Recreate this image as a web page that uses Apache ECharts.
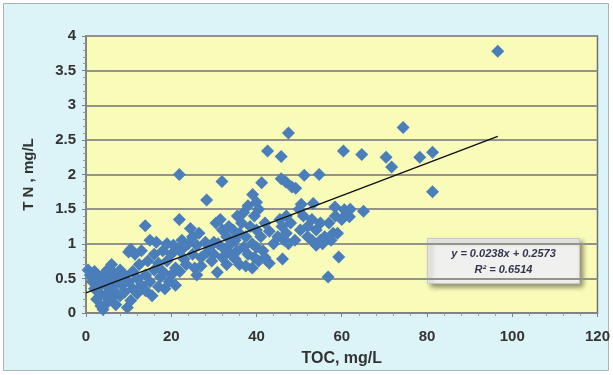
<!DOCTYPE html>
<html>
<head>
<meta charset="utf-8">
<script src="https://cdn.jsdelivr.net/npm/echarts@6/dist/echarts.min.js"></script>
<style>
  html, body { margin: 0; padding: 0; background: #ffffff; }
  #main { width: 613px; height: 375px; }
</style>
</head>
<body>
<div id="main"></div>
<script>
  // TOC vs TN samples
  var points = [
    [0.5,0.62],[1,0.55],[1.5,0.45],[2,0.35],[2,0.6],[2.5,0.2],[3,0.5],[3,0.3],[3.5,0.1],[3.5,0.4],
    [4,0.05],[4,0.55],[4.5,0.25],[4.5,0.45],[5,0.15],[5,0.62],[5.5,0.35],[5.5,0.5],[6,0.7],[6,0.22],
    [6.5,0.4],[6.5,0.58],[7,0.3],[7,0.12],[7.5,0.5],[8,0.25],[8,0.62],[8.5,0.4],[9,0.55],[9,0.3],
    [9.7,0.08],[10,0.88],[10,0.45],[10.5,0.18],
    [10.5,0.92],[11,0.6],[11,0.35],[11.5,0.85],[12,0.5],[12,0.28],[12.5,0.7],[13,0.9],[13,0.4],[13.9,1.26],
    [14,0.55],[14,0.32],[14.5,0.75],[15,1.05],[15,0.45],[15.5,0.25],[16,0.62],[16,0.85],[16.5,1.02],[17,0.38],
    [17,0.72],[17.5,0.52],[18,0.9],[18,0.6],[18.5,0.35],[19,1.0],[19,0.75],[19.5,0.45],[20,0.55],[20,0.85],
    [20.5,0.98],[21,0.65],[21,0.4],[21.9,1.35],[21.9,2.0],[22,0.9],[22,0.6],[22.5,1.05],[23,0.78],[23,0.95],
    [23.5,0.7],[24,1.0],[24.5,1.22],[25,0.85],[25,1.1],[25.5,0.65],[26,0.98],[26,0.55],[26.5,1.15],[27,0.8],
    [27,0.68],[28,1.02],[28.3,1.63],[28.5,0.88],[29,0.95],[29.5,0.75],[30,1.02],[30,0.85],
    [30.5,1.3],[30.8,0.59],[31,1.0],[31.5,1.35],[31.9,1.9],[32,0.8],[32,1.2],[32.5,0.92],[33,1.1],[33,0.7],
    [33.5,1.25],[34,0.85],[34,1.0],[34.5,1.2],[35,0.78],[35,1.05],[35.5,1.4],[35.5,0.9],[36,1.15],[36,0.7],
    [36.5,1.3],[37,0.95],[37,1.45],[37.5,0.68],[37.5,1.1],[38,1.55],[38,0.85],[38.5,1.25],[39,1.0],[39,0.65],
    [39.1,1.71],[39.5,1.4],[39.5,0.8],[40,1.6],[40,1.2],[40,0.95],
    [40.5,1.5],[40.5,0.75],[41,1.1],[41.2,1.88],[41.5,0.9],[42,1.3],[42,0.8],[42.6,2.34],[43,1.18],[43,0.72],
    [44,1.0],[45,1.1],[45.5,1.35],[45.8,2.26],[45.8,1.94],[46,1.25],[46.1,0.78],[46.5,1.05],[46.9,1.89],[47,1.4],
    [47,1.15],[47.5,2.6],[47.5,1.0],[48,1.3],[48.3,1.82],[49.2,1.8],[49,1.05],[50,1.5],[50.3,1.2],
    [50.5,1.57],[51,1.4],[51.2,1.99],[52,1.1],[52,1.25],[53,1.05],[53,1.35],[53.3,1.58],[54,1.2],[54,0.98],
    [54.7,2.0],[55,1.3],[55,1.05],[55.5,1.0],[56,1.1],[56.8,0.52],[57,1.3],[57.5,1.05],[58,1.15],[58.4,1.53],
    [58.5,1.4],[59,1.15],[59.3,0.81],[60,1.35],[60.4,2.34],[60.6,1.49],[61,1.42],[61.8,1.39],[62,1.5],[64.7,2.29],
    [65.1,1.47],
    [70.4,2.25],[71.7,2.11],[74.4,2.68],[78.3,2.25],[81.3,2.32],[81.3,1.75],[96.6,3.78]
  ];
  // linear trend line ends
  var trend = [[0, 0.29], [96.6, 2.55]];
  var eqText = 'y = 0.0238x + 0.2573';
  var r2Text = 'R² = 0.6514';

  var chart = echarts.init(document.getElementById('main'));
  chart.setOption({
    backgroundColor: '#ffffff',
    animation: false,
    graphic: [{
      type: 'rect',
      z: -10,
      shape: { x: 3.5, y: 3.5, width: 605, height: 367 },
      style: { fill: '#dcf3f7', stroke: '#a9b4b8', lineWidth: 1 }
    }, {
      type: 'group',
      left: 427,
      top: 238,
      z: 100,
      children: [{
        type: 'rect',
        shape: { x: 0, y: 0, width: 152, height: 45 },
        style: {
          fill: '#f0f0ee', stroke: '#c8c8c8', lineWidth: 1,
          shadowBlur: 5, shadowOffsetX: 3, shadowOffsetY: 3, shadowColor: 'rgba(0,0,0,0.45)'
        }
      }, {
        type: 'text',
        x: 76, y: 15,
        style: { text: eqText, fill: '#34344f', font: 'italic bold 11px "Liberation Sans"', align: 'center', verticalAlign: 'middle' }
      }, {
        type: 'text',
        x: 76, y: 31,
        style: { text: r2Text, fill: '#34344f', font: 'italic bold 11px "Liberation Sans"', align: 'center', verticalAlign: 'middle' }
      }]
    }],
    grid: {
      left: 86, right: 15, top: 36, bottom: 62,
      show: true,
      backgroundColor: '#f9fbb8',
      borderColor: '#6f6f6f',
      borderWidth: 1.5
    },
    xAxis: {
      type: 'value',
      min: 0, max: 120, interval: 20,
      name: 'TOC, mg/L',
      nameLocation: 'middle',
      nameGap: 38,
      nameTextStyle: { fontFamily: 'Liberation Sans', fontWeight: 'bold', fontSize: 16, color: '#333' },
      axisLine: { show: true, lineStyle: { color: '#7f7f7f', width: 1.5 } },
      axisTick: { show: true, length: 4, lineStyle: { color: '#7f7f7f' } },
      minorTick: { show: true, splitNumber: 5, length: 3, lineStyle: { color: '#9a9a9a' } },
      axisLabel: { fontFamily: 'Liberation Sans', fontWeight: 'bold', fontSize: 15, color: '#333', margin: 16 },
      splitLine: { show: false }
    },
    yAxis: {
      type: 'value',
      min: 0, max: 4, interval: 0.5,
      name: 'T N , mg/L',
      nameLocation: 'middle',
      nameGap: 50,
      nameTextStyle: { fontFamily: 'Liberation Sans', fontWeight: 'bold', fontSize: 15, color: '#333' },
      axisLine: { show: true, lineStyle: { color: '#7f7f7f', width: 1.5 } },
      axisTick: { show: true, length: 4, lineStyle: { color: '#7f7f7f' } },
      minorTick: { show: true, splitNumber: 5, length: 3, lineStyle: { color: '#9a9a9a' } },
      axisLabel: { fontFamily: 'Liberation Sans', fontWeight: 'bold', fontSize: 15, color: '#333', margin: 10 },
      splitLine: { show: true, lineStyle: { color: '#93938c', width: 2 } }
    },
    series: [{
      name: 'TN',
      type: 'scatter',
      symbol: 'diamond',
      symbolSize: 13,
      data: points,
      itemStyle: { color: '#4a7ebb', opacity: 1 }
    }, {
      name: 'trend',
      type: 'line',
      data: trend,
      symbol: 'none',
      z: 5,
      lineStyle: { color: '#111', width: 1.5 }
    }]
  });
</script>
</body>
</html>
